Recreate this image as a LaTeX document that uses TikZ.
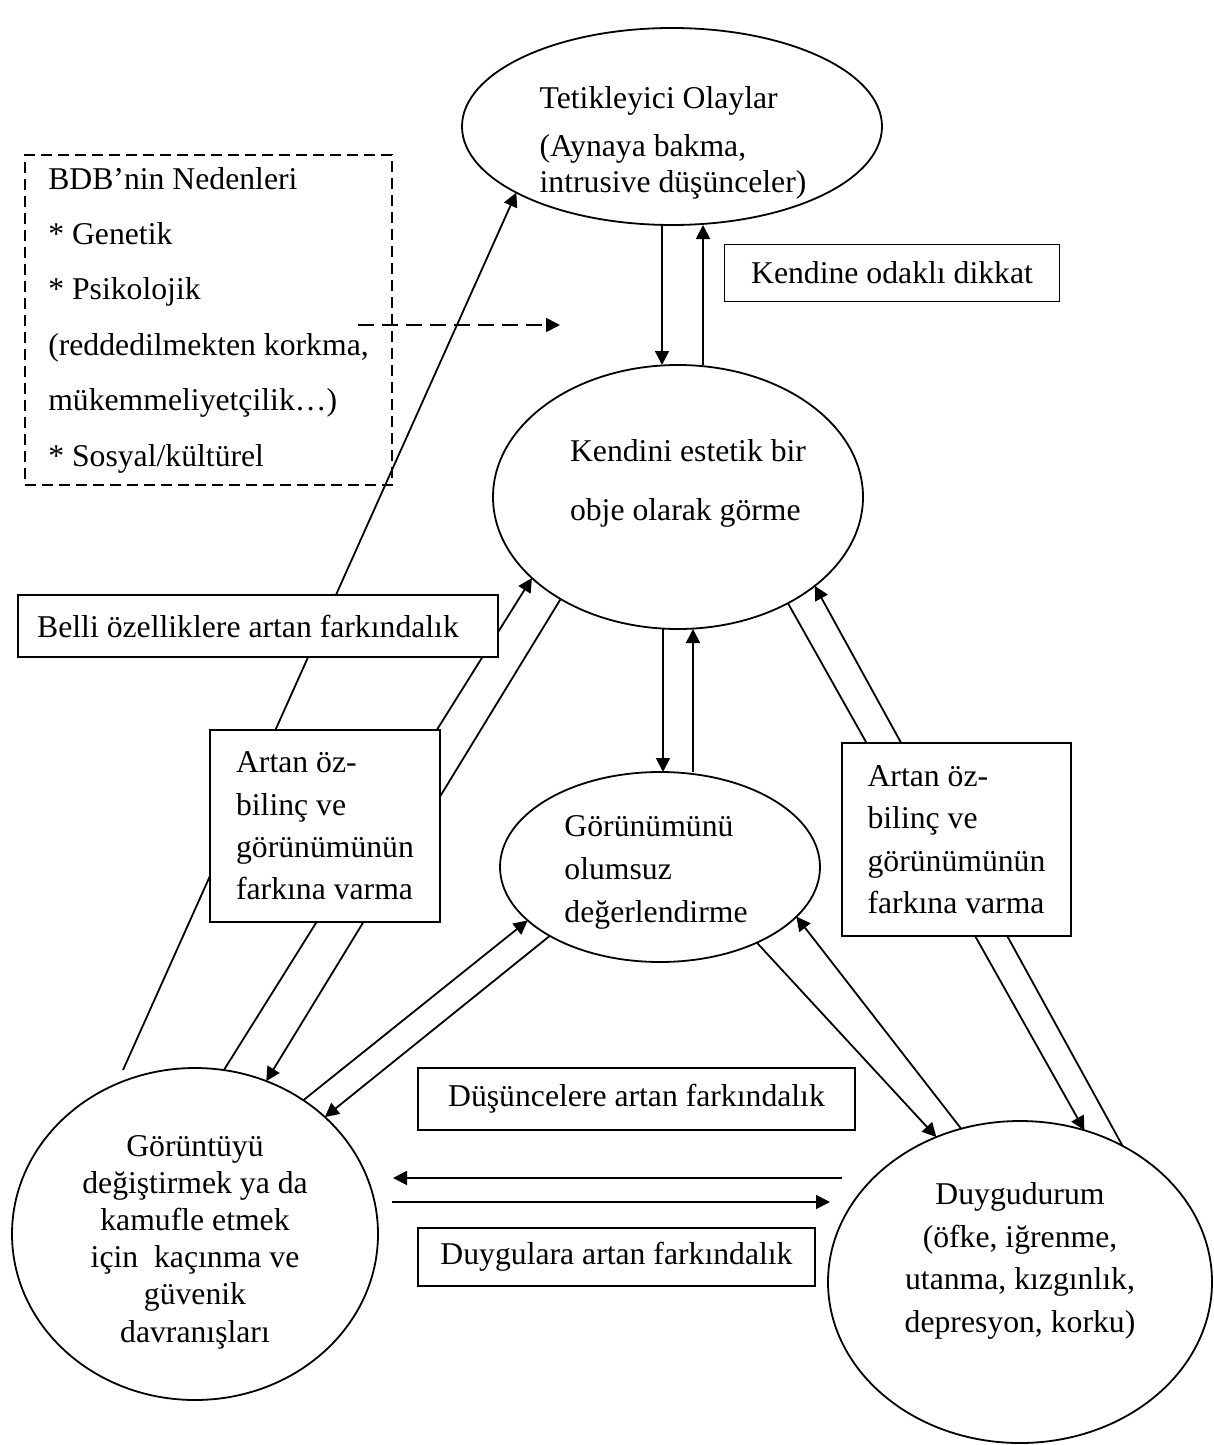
\documentclass[tikz,border=0pt]{standalone}
\usepackage{fontspec}
\setmainfont{Liberation Serif}
\usetikzlibrary{shapes.geometric, arrows.meta, backgrounds}

\newcommand{\txtsz}[1]{\fontsize{15.85pt}{#1}\selectfont}

\begin{document}
\begin{tikzpicture}[
    x=0.5pt, y=-0.5pt,
    oval/.style={ellipse, draw, fill=white, line width=0.9pt, inner sep=0pt, outer sep=0pt},
    tag/.style={rectangle, draw, fill=white, line width=0.9pt, inner sep=0pt, outer sep=0pt},
    txt/.style={inner sep=0pt, align=left},
    arr/.style={-{Triangle[length=7pt, width=7pt]}, line width=0.9pt},
]
\useasboundingbox (0,0) rectangle (1214,1445);

% Ellipses
\node[oval, minimum width=210pt, minimum height=98.5pt] (trig) at (672,126.5) {};
\node[txt, font=\txtsz{18pt}] (trigtxt) at (673,143)
    {Tetikleyici Olaylar\\[6pt](Aynaya bakma,\\intrusive düşünceler)};
\node[oval, minimum width=185pt, minimum height=132pt] (obj) at (678,497) {};
\node[txt, font=\txtsz{29.5pt}] (objtxt) at (688,483) {Kendini estetik bir\\obje olarak görme};
\node[oval, minimum width=160pt, minimum height=95pt] (gor) at (660,867) {};
\node[txt, font=\txtsz{21.5pt}] (gortxt) at (656,872) {Görünümünü\\olumsuz\\değerlendirme};
\node[oval, minimum width=183pt, minimum height=166pt] (kac) at (195,1234) {};
\node[txt, align=center, font=\txtsz{18.6pt}] (kactxt) at (195,1242)
    {Görüntüyü\\değiştirmek ya da\\kamufle etmek\\için\ \ kaçınma ve\\güvenik\\davranışları};
\node[oval, minimum width=192pt, minimum height=161pt] (duy) at (1020,1282) {};
\node[txt, align=center, font=\txtsz{21.3pt}] (duytxt) at (1020,1261)
    {Duygudurum\\(öfke, iğrenme,\\utanma, kızgınlık,\\depresyon, korku)};

% Boxes
\node[tag, minimum width=167.5pt, minimum height=28.5pt, font=\txtsz{19pt}] (focus) at (892,273) {Kendine odaklı dikkat};
\node[tag, fill=none, dash pattern=on 5.5pt off 3pt, minimum width=183.5pt, minimum height=165pt,
      align=left, font=\txtsz{27.7pt}] (causes) at (208.5,320)
    {BDB’nin Nedenleri\\* Genetik\\* Psikolojik\\(reddedilmekten korkma,\\mükemmeliyetçilik…)\\* Sosyal/kültürel};
\node[tag, minimum width=240pt, minimum height=31pt, font=\txtsz{19pt}] (belli) at (258,626)
    {Belli özelliklere artan farkındalık\hspace*{10pt}};
\node[tag, minimum width=115pt, minimum height=96pt, align=left, font=\txtsz{21.2pt}] (artL) at (325,826)
    {Artan öz-\\bilinç ve\\görünümünün\\farkına varma};
\node[tag, minimum width=114.5pt, minimum height=96.5pt, align=left, font=\txtsz{21.2pt}] (artR) at (956.5,839.5)
    {Artan öz-\\bilinç ve\\görünümünün\\farkına varma};
\node[tag, minimum width=218.5pt, minimum height=31pt, font=\txtsz{19pt}] (dus) at (636.5,1099) {Düşüncelere artan farkındalık};
\node[tag, minimum width=198.5pt, minimum height=29pt, font=\txtsz{19pt}] (dgl) at (616.5,1257) {Duygulara artan farkındalık};

% Free ends
\coordinate (foot) at (123,1070);
\coordinate (dashL) at (358,325);
\coordinate (dashR) at (560,325);
\coordinate (hiR) at (842,1178);
\coordinate (hiL) at (393,1178);
\coordinate (loL) at (392,1202);
\coordinate (loR) at (830,1202);

% Connectors (behind the boxes)
\begin{scope}[on background layer]
\draw[arr] (foot) -- (trig.203.5);
\draw[arr] ([xshift=-5pt]trig.south) -- ([xshift=-5pt]trig.south |- obj.north);
\draw[arr] ([xshift=15.5pt]trig.south |- obj.north) -- ([xshift=15.5pt]trig.south);
\draw[arr] ([xshift=-7.5pt]obj.south) -- ([xshift=-7.5pt]obj.south |- gor.north);
\draw[arr] ([xshift=7.5pt]obj.south |- gor.north) -- ([xshift=7.5pt]obj.south);
% left side
\draw[arr] (kac.80) -- (obj.209.5);
\draw[arr] (obj.221) -- (kac.65);
\draw[arr] (kac.51) -- (gor.202);
\draw[arr] (gor.212) -- (kac.42);
% right side
\draw[arr] (gor.322) -- (duy.120);
\draw[arr] (duy.111) -- (gor.340);
\draw[arr] (obj.316) -- (duy.67);
\draw[arr] (duy.53) -- (obj.327);
% bottom
\draw[arr] (hiR) -- (hiL);
\draw[arr] (loL) -- (loR);
\end{scope}

\draw[arr, dash pattern=on 8pt off 4pt] (dashL) -- (dashR);

\end{tikzpicture}
\end{document}
